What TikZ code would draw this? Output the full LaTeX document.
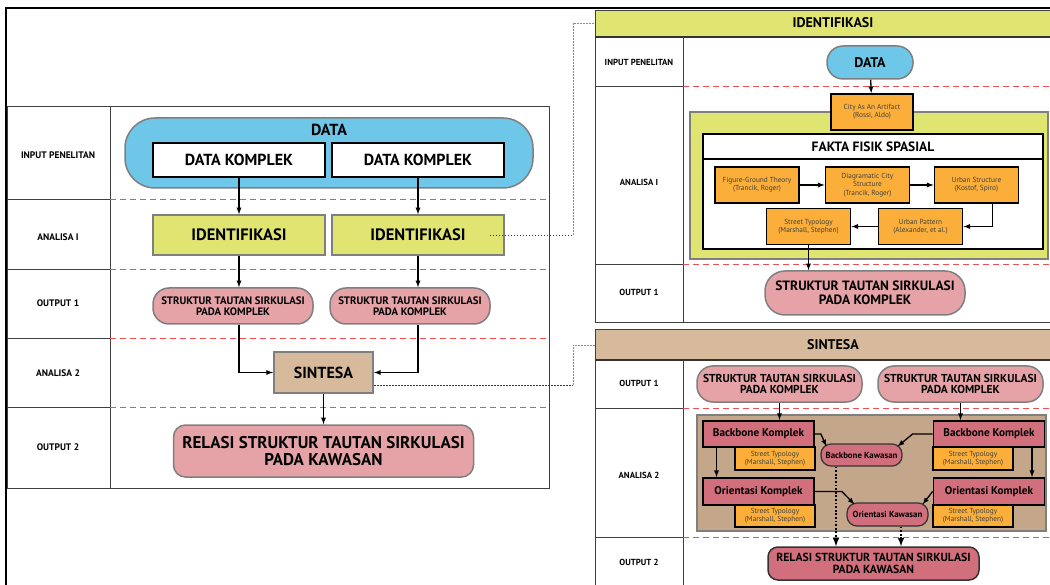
\documentclass[tikz,border=0pt]{standalone}
\usepackage{fontspec}
\setmainfont{PT Sans}
\usetikzlibrary{positioning}
\usetikzlibrary{calc}
\usetikzlibrary{arrows,shapes}

\definecolor{datablue}{HTML}{6EC6E8}
\definecolor{idyellow}{HTML}{E0E471}
\definecolor{outpink}{HTML}{E5A3A8}
\definecolor{sintan}{HTML}{D6BA9B}
\definecolor{boxtan}{HTML}{C4A68A}
\definecolor{komred}{HTML}{D16F7C}
\definecolor{teorange}{HTML}{FBAF3A}
\definecolor{edgegrey}{HTML}{7F7F7F}
\definecolor{sepred}{HTML}{F04E55}

\newcommand{\fs}[1]{\bfseries\fontsize{#1}{#1}\selectfont}

\tikzset{
  rowlbl/.style={font=\fs{9.5}},
  rowlblS/.style={font=\fs{8.8}},
  headlbl/.style={font=\fs{14}},
  sep/.style={sepred, line width=0.8pt, dash pattern=on 6pt off 4pt},
  grid/.style={draw=black!75, line width=0.9pt},
  arr/.style={-latex, line width=1.3pt},
  arrdot/.style={-latex, line width=1.8pt, dash pattern=on 1.8pt off 1.8pt},
  link/.style={black!80, line width=0.8pt, dash pattern=on 1.5pt off 1.5pt},
  linkg/.style={black!45, line width=0.8pt, dash pattern=on 1.5pt off 1.5pt},
  datapill/.style={draw=edgegrey, line width=1.5pt, fill=datablue, align=center},
  komplek/.style={draw=black, line width=2pt, fill=white, font=\fs{16},
    minimum width=172, minimum height=34, inner sep=0},
  ident/.style={draw=edgegrey, line width=1.5pt, fill=idyellow, font=\fs{16.5},
    minimum width=172, minimum height=40, inner sep=0},
  outpill/.style={draw=edgegrey, line width=1.5pt, fill=outpink, align=center,
    inner sep=0},
  teori/.style={draw=black, line width=1.8pt, fill=teorange, align=center,
    font=\fontsize{7.3}{8.3}\selectfont, text=black!75, minimum width=84,
    minimum height=36, inner sep=0},
  komred box/.style={draw=black, line width=1.8pt, fill=komred, font=\fs{11.2},
    minimum width=111, minimum height=26, inner sep=0},
  typo/.style={draw=black, line width=1.5pt, fill=teorange, align=center,
    font=\fontsize{7.3}{8}\selectfont, text=black!75, minimum width=80,
    minimum height=23, inner sep=0},
  kawasan/.style={draw=black!80, line width=1.2pt, fill=komred, font=\fs{8.8},
    minimum width=81, minimum height=22, rounded corners=10, inner sep=0},
}

\begin{document}
\begin{tikzpicture}[x=1pt,y=-1pt]
\useasboundingbox (0,0) rectangle (1050,585);
\clip (0,0) rectangle (1050,585);

% left table
\draw[grid] (7,106) rectangle (549,488);
\draw[grid] (110,106) -- (110,488);
\foreach \y in {199,269,338,407}{
  \draw[grid] (7,\y) -- (110,\y);
  \draw[sep] (110,\y) -- (549,\y);
}
\node[rowlbl] (inL) at (58,155) {INPUT PENELITAN};
\node[rowlbl] (an1L) at (58,237) {ANALISA I};
\node[rowlbl] (out1L) at (58,303) {OUTPUT 1};
\node[rowlbl] (an2L) at (58,373) {ANALISA 2};
\node[rowlbl] (out2L) at (58,447) {OUTPUT 2};

\node[datapill, minimum width=408, minimum height=70, rounded corners=30] (data) at (329,153) {};
\node[font=\fs{16}] (dataT) at (329,130) {DATA};
\node[komplek] (dkA) at (239,160) {DATA KOMPLEK};
\node[komplek] (dkB) at (418,160) {DATA KOMPLEK};

\node[ident] (idA) at (239,235) {IDENTIFIKASI};
\node[ident] (idB) at (418,235) {IDENTIFIKASI};

\node[outpill, minimum width=160, minimum height=36, rounded corners=16, font=\fs{10.8}] (stA) at (233,306) {STRUKTUR TAUTAN SIRKULASI\\PADA KOMPLEK};
\node[outpill, minimum width=160, minimum height=36, rounded corners=16, font=\fs{10.8}] (stB) at (410,306) {STRUKTUR TAUTAN SIRKULASI\\PADA KOMPLEK};

\node[draw=edgegrey, line width=2pt, fill=sintan, font=\fs{16}, minimum width=99, minimum height=41] (sin) at (323.5,372.5) {SINTESA};

\node[outpill, minimum width=300, minimum height=52, rounded corners=12, font=\fs{17}] (rel) at (323.5,451) {RELASI STRUKTUR TAUTAN SIRKULASI\\PADA KAWASAN};

\path
(dkA) edge[arr] (idA)
(dkB) edge[arr] (idB)
(sin) edge[arr] (rel);
\draw[arr] (idA.south) -- (idA.south |- stA.north);
\draw[arr] (idB.south) -- (idB.south |- stB.north);
\draw[arr] (idA.south |- stA.south) |- (sin.west);
\draw[arr] (idB.south |- stB.south) |- (sin.east);

% links to the detail panels
\coordinate (idTab) at (573,235);
\coordinate (idHook) at (595,23);
\coordinate (sinTab) at (573,385);
\coordinate (sinHook) at (597,345);
\draw[link] ([xshift=-15]idB.east) -- (idTab);
\draw[linkg] (idTab) |- (idHook);
\draw[link] ($(sin.east)+(0,12.5)$) -- (sinTab);
\draw[linkg] (sinTab) |- (sinHook);

% identifikasi panel
\draw[grid, fill=idyellow] (595,10) rectangle (1075,37);
\draw[grid] (595,37) rectangle (1075,322);
\draw[black!80, line width=1.6pt] (595,37) -- (1075,37);
\draw[grid] (683,37) -- (683,322);
\foreach \y in {86,264}{
  \draw[grid] (595,\y) -- (683,\y);
  \draw[sep] (683,\y) -- (1075,\y);
}
\node[headlbl] (idHead) at (833,23) {IDENTIFIKASI};
\node[rowlblS] (inR) at (639,62) {INPUT PENELITAN};
\node[rowlblS] (an1R) at (639,182) {ANALISA I};
\node[rowlblS] (out1R) at (639,292) {OUTPUT 1};

\node[datapill, minimum width=86, minimum height=33, rounded corners=16, font=\fs{14}] (dataR) at (870,62.5) {DATA};

\draw[draw=edgegrey, line width=1.5pt, fill=idyellow] (690,112) rectangle (1048,259);
\draw[line width=2pt, fill=white] (703,134) rectangle (1043,249);
\draw[line width=2pt] (703,159) -- (1043,159);
\node[font=\fs{13.5}] (fakta) at (873,147) {FAKTA FISIK SPASIAL};

\node[teori, minimum width=82] (city) at (872,112) {City As An Artifact\\(Rossi, Aldo)};
\node[teori] (fg) at (757,185) {Figure-Ground Theory\\(Trancik, Roger)};
\node[teori] (diag) at (867.5,185) {Diagramatic City\\Structure\\(Trancik, Roger)};
\node[teori] (us) at (976.5,185) {Urban Structure\\(Kostof, Spiro)};
\node[teori] (stTy) at (808.5,226.5) {Street Typology\\(Marshall, Stephen)};
\node[teori] (up) at (920.5,226.5) {Urban Pattern\\(Alexander, et al.)};

\node[outpill, minimum width=200, minimum height=44, rounded corners=20, font=\fs{13.5}] (strR) at (865,293) {STRUKTUR TAUTAN SIRKULASI\\PADA KOMPLEK};

\path
(dataR) edge[arr] (city)
(fg) edge[arr] (diag)
(diag) edge[arr] (us)
(up) edge[arr] (stTy);
\draw[arr] ([xshift=16]us.south) |- (up.east);
\draw[arr] (stTy.south) -- (stTy.south |- strR.north);

% sintesa panel
\draw[grid, fill=sintan] (595,329) rectangle (1075,360);
\draw[grid] (595,360) rectangle (1075,595);
\draw[black!80, line width=1.6pt] (595,360) -- (1075,360);
\draw[grid] (683,360) -- (683,595);
\foreach \y in {408,537}{
  \draw[grid] (595,\y) -- (683,\y);
  \draw[sep] (683,\y) -- (1075,\y);
}
\node[headlbl] (sinHead) at (833,344.5) {SINTESA};
\node[rowlblS] (out1S) at (639,383) {OUTPUT 1};
\node[rowlblS] (an2S) at (639,475) {ANALISA 2};
\node[rowlblS] (out2S) at (639,562) {OUTPUT 2};

\node[outpill, minimum width=165, minimum height=36, rounded corners=16, font=\fs{11.5}] (sL) at (779.5,384) {STRUKTUR TAUTAN SIRKULASI\\PADA KOMPLEK};
\node[outpill, minimum width=165, minimum height=36, rounded corners=16, font=\fs{11.5}] (sR) at (960.5,384) {STRUKTUR TAUTAN SIRKULASI\\PADA KOMPLEK};

\draw[draw=edgegrey, line width=1.5pt, fill=boxtan] (697,415) rectangle (1046,531);

\node[typo] (tyL1) at (775,458.5) {Street Typology\\(Marshall, Stephen)};
\node[typo, minimum height=22] (tyL2) at (775,516) {Street Typology\\(Marshall, Stephen)};
\node[typo] (tyR1) at (973,458.5) {Street Typology\\(Marshall, Stephen)};
\node[typo, minimum height=22] (tyR2) at (973,516) {Street Typology\\(Marshall, Stephen)};
\node[komred box] (bbL) at (758.5,434) {Backbone Komplek};
\node[komred box, minimum height=27] (orL) at (758.5,491.5) {Orientasi Komplek};
\node[komred box] (bbR) at (989,434) {Backbone Komplek};
\node[komred box, minimum height=27] (orR) at (989,491.5) {Orientasi Komplek};

\node[kawasan] (bbK) at (861.5,455) {Backbone Kawasan};
\node[kawasan, minimum height=23] (orK) at (887.5,514.5) {Orientasi Kawasan};

\node[draw=black!80, line width=1.5pt, fill=komred, align=center, font=\fs{11.7}, minimum width=211, minimum height=33, rounded corners=10, inner sep=0] (relR) at (873.5,563.5) {RELASI STRUKTUR TAUTAN SIRKULASI\\PADA KAWASAN};

\draw[arr] (sL.south) -- (sL.south |- bbL.north);
\draw[arr] (sR.south) -- (sR.south |- bbR.north);
\draw[arr] ([xshift=-42]bbL.south) -- ([xshift=-42]orL.north);
\draw[arr] ([xshift=43]bbR.south) -- ([xshift=43]orR.north);
\draw[arr] (bbL.east) -- ++(6,0) -- ($(bbK.north west)+(6,3)$);
\draw[arr] (bbR.west) -- ++(-20,0) -- ($(bbK.north east)+(-5,3)$);
\draw[arr] (orL.east) -- ++(27,0) -- ($(orK.north west)+(8,2)$);
\draw[arr] (orR.west) -- ($(orK.north east)+(-6,2)$);
\draw[arrdot] ([xshift=-25.5]bbK.south) -- ([xshift=-25.5]bbK.south |- relR.north);
\draw[arrdot] ([xshift=13.5]orK.south) -- ([xshift=13.5]orK.south |- relR.north);

% outer frame
\draw[line width=2.5pt] (6,595) -- (6,8) -- (1060,8);
\end{tikzpicture}
\end{document}
